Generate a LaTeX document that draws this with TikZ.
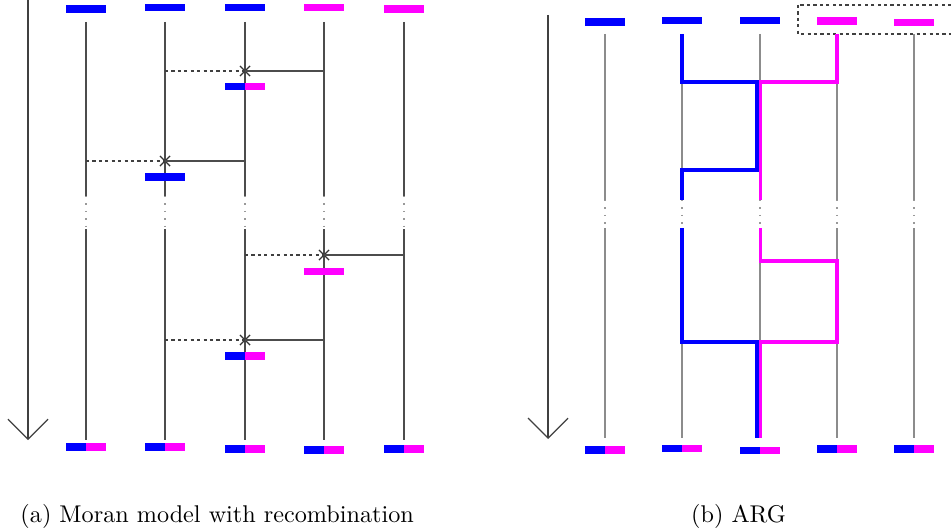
\documentclass[tikz,border=0pt]{standalone}
\usepackage{tikz}
\usetikzlibrary{arrows.meta,shapes.misc}

\definecolor{hapblue}{RGB}{0,0,255}
\definecolor{hapmagenta}{RGB}{255,0,255}

\tikzset{
  lineage/.style={draw=black!70, line width=0.45pt},
  lineagepale/.style={draw=black!45, line width=0.55pt},
  gapdots/.style={draw=black!40, line width=0.6pt, dash pattern=on 0.6pt off 2.4pt},
  migrant/.style={draw=black!75, line width=0.45pt, dash pattern=on 1.3pt off 1.3pt},
  xmark/.style={cross out, draw=black!80, line width=0.5pt, minimum size=3.6pt, inner sep=0pt},
  hapb/.style={fill=hapblue, minimum width=16.2pt, minimum height=3.2pt, inner sep=0pt, outer sep=0pt},
  hapm/.style={hapb, fill=hapmagenta},
  halfb/.style={hapb, minimum width=8.1pt},
  halfm/.style={hapm, minimum width=8.1pt},
  ancblue/.style={draw=hapblue, line width=1.35pt},
  ancmag/.style={draw=hapmagenta, line width=1.35pt},
  timeline/.style={draw=black!75, line width=0.5pt, -{Straight Barb[length=8.1pt,width=16.2pt]}},
  subcap/.style={anchor=base, inner sep=0pt, font=\fontsize{9.8pt}{12pt}\selectfont},
}

% recombinant haplotype: blue left half, magenta right half
\newcommand{\twohap}[2]{%
  \coordinate (#1) at (#2);
  \node[halfb, anchor=east] (#1l) at (#1) {};
  \node[halfm, anchor=west] (#1r) at (#1) {};}

\begin{document}
\begin{tikzpicture}[x=0.405pt, y=-0.405pt]
  \useasboundingbox (0,0) rectangle (951,531);

  % (a) Moran model
  \coordinate (atop)  at (0,22);
  \coordinate (agap1) at (0,196);
  \coordinate (agap2) at (0,229);
  \coordinate (abot)  at (0,440);
  \coordinate (atime0) at (28,0);
  \coordinate (atime1) at (28,440);

  \node[hapb] (at1) at (86,9) {};
  \node[hapb] (at2) at (165,7.5) {};
  \node[hapb] (at3) at (245,7.5) {};
  \node[hapm] (at4) at (324,7.5) {};
  \node[hapm] (at5) at (404,9) {};

  \twohap{ab1}{86,447}
  \twohap{ab2}{165,447}
  \twohap{ab3}{245,449}
  \twohap{ab4}{324,450}
  \twohap{ab5}{404,449}

  \draw[timeline] (atime0) -- (atime1);

  \draw[lineage] (at1|-atop) -- (at1|-agap1) (at1|-agap2) -- (at1|-abot);
  \draw[lineage] (at2|-atop) -- (at2|-agap1) (at2|-agap2) -- (at2|-abot);
  \draw[lineage] (at3|-atop) -- (at3|-agap1) (at3|-agap2) -- (at3|-abot);
  \draw[lineage] (at4|-atop) -- (at4|-agap1) (at4|-agap2) -- (at4|-abot);
  \draw[lineage] (at5|-atop) -- (at5|-agap1) (at5|-agap2) -- (at5|-abot);
  \draw[gapdots] (at1|-agap1) -- (at1|-agap2) (at2|-agap1) -- (at2|-agap2)
                 (at3|-agap1) -- (at3|-agap2) (at4|-agap1) -- (at4|-agap2)
                 (at5|-agap1) -- (at5|-agap2);

  % recombination events
  \node[xmark] (r1) at (245,71) {};
  \node[xmark] (r2) at (165,161) {};
  \node[xmark] (r3) at (324,255) {};
  \node[xmark] (r4) at (245,340) {};

  \draw[migrant] (at2|-r1) -- (r1.center);
  \draw[lineage] (r1.center) -- (at4|-r1);
  \draw[migrant] (at1|-r2) -- (r2.center);
  \draw[lineage] (r2.center) -- (at3|-r2);
  \draw[migrant] (at3|-r3) -- (r3.center);
  \draw[lineage] (r3.center) -- (at5|-r3);
  \draw[migrant] (at2|-r4) -- (r4.center);
  \draw[lineage] (r4.center) -- (at4|-r4);

  \twohap{r1h}{245,86.5}
  \node[hapb] (r2h) at (165,177) {};
  \node[hapm] (r3h) at (324,271.5) {};
  \twohap{r4h}{245,356}

  \node[subcap, anchor=base west] (capa) at (20,522) {(a) Moran model with recombination};

  % (b) ARG
  \coordinate (btop)  at (0,34);
  \coordinate (bgap1) at (0,200);
  \coordinate (bgap2) at (0,228);
  \coordinate (bbot)  at (0,438);
  \coordinate (btime0) at (548,15);
  \coordinate (btime1) at (548,439);
  \coordinate (e1) at (0,82);
  \coordinate (e2) at (0,170);
  \coordinate (e3) at (0,261);
  \coordinate (e4) at (0,342);
  \coordinate (lb) at (757,0);
  \coordinate (lm) at (760.4,0);

  \node[hapb] (bt1) at (605,22) {};
  \node[hapb] (bt2) at (682,20.5) {};
  \node[hapb] (bt3) at (760,20.5) {};
  \node[hapm] (bt4) at (837,21) {};
  \node[hapm] (bt5) at (914,22.5) {};

  \twohap{bb1}{605,450}
  \twohap{bb2}{682,448.5}
  \twohap{bb3}{760,450.5}
  \twohap{bb4}{837,448.7}
  \twohap{bb5}{914,448.7}

  \draw[migrant] (798,5) rectangle (958,34);

  \draw[timeline] (btime0) -- (btime1);

  \draw[lineagepale] (bt1|-btop) -- (bt1|-bgap1) (bt1|-bgap2) -- (bt1|-bbot);
  \draw[lineagepale] (bt2|-btop) -- (bt2|-bgap1) (bt2|-bgap2) -- (bt2|-bbot);
  \draw[lineagepale] (bt3|-btop) -- (bt3|-bgap1) (bt3|-bgap2) -- (bt3|-bbot);
  \draw[lineagepale] (bt4|-btop) -- (bt4|-bgap1) (bt4|-bgap2) -- (bt4|-bbot);
  \draw[lineagepale] (bt5|-btop) -- (bt5|-bgap1) (bt5|-bgap2) -- (bt5|-bbot);
  \draw[gapdots] (bt1|-bgap1) -- (bt1|-bgap2) (bt2|-bgap1) -- (bt2|-bgap2)
                 (bt3|-bgap1) -- (bt3|-bgap2) (bt4|-bgap1) -- (bt4|-bgap2)
                 (bt5|-bgap1) -- (bt5|-bgap2);

  % ancestral material
  \draw[ancblue] (bt2|-btop) -- (bt2|-e1) -- (lb|-e1) -- (lb|-e2) -- (bt2|-e2) -- (bt2|-bgap1)
                 (bt2|-bgap2) -- (bt2|-e4) -- (lb|-e4) -- (lb|-bbot);
  \draw[ancmag] (bt4|-btop) -- (bt4|-e1) -- (lm|-e1) -- (lm|-bgap1)
                (lm|-bgap2) -- (lm|-e3) -- (bt4|-e3) -- (bt4|-e4) -- (lm|-e4) -- (lm|-bbot);

  \node[subcap] (capb) at (738.5,522) {(b) ARG};
\end{tikzpicture}
\end{document}
